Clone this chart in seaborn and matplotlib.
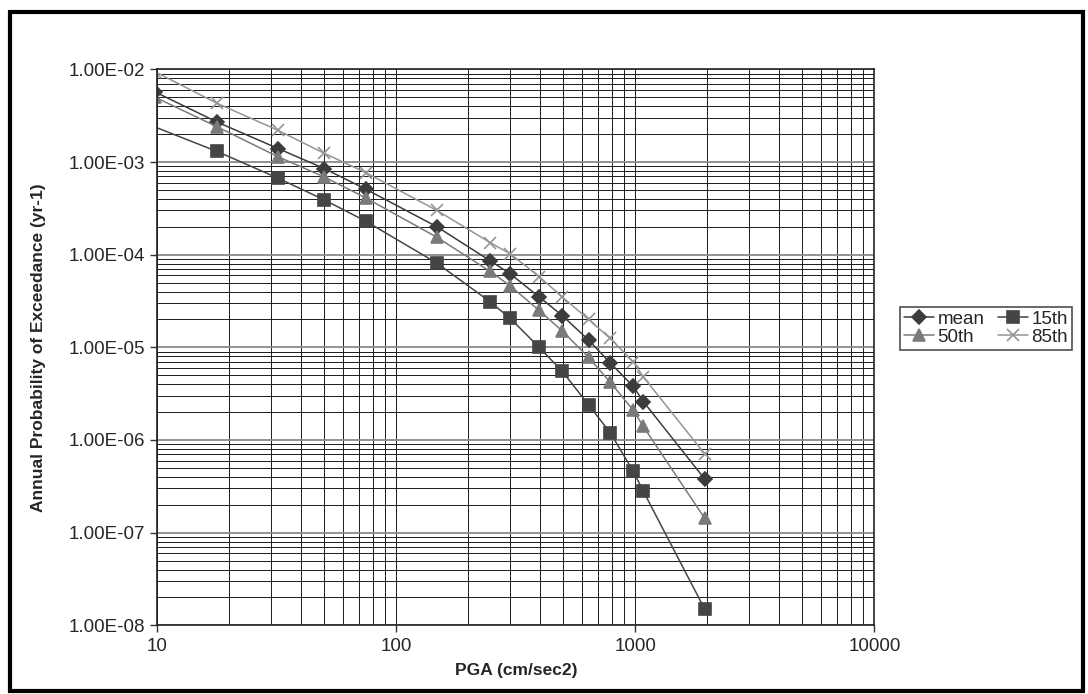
import seaborn as sns
import pandas as pd
import matplotlib.pyplot as plt
from matplotlib.ticker import LogLocator, FuncFormatter, NullFormatter
from matplotlib.patches import Rectangle

# datos
pga = [9.8, 17.8, 32, 50, 74.5, 148, 247, 300, 396, 495, 637, 785, 980, 1080, 1950]
pga_15th = [9.35, 17.8, 32, 50, 74.5, 148, 247, 300, 396, 495, 637, 785, 980, 1080, 1950]

mean = [5.7e-3, 2.7e-3, 1.4e-3, 8.5e-4, 5.1e-4, 2.0e-4, 8.6e-5, 6.2e-5, 3.5e-5,
        2.2e-5, 1.2e-5, 6.8e-6, 3.8e-6, 2.6e-6, 3.8e-7]
p15 = [2.5e-3, 1.3e-3, 6.7e-4, 3.9e-4, 2.3e-4, 8.1e-5, 3.1e-5, 2.05e-5, 1.0e-5,
       5.5e-6, 2.4e-6, 1.2e-6, 4.6e-7, 2.8e-7, 1.5e-8]
p50 = [5.0e-3, 2.4e-3, 1.14e-3, 6.9e-4, 4.1e-4, 1.54e-4, 6.6e-5, 4.6e-5, 2.5e-5,
       1.5e-5, 7.8e-6, 4.2e-6, 2.1e-6, 1.4e-6, 1.43e-7]
p85 = [9.4e-3, 4.3e-3, 2.2e-3, 1.24e-3, 7.7e-4, 3.0e-4, 1.35e-4, 1.02e-4, 5.8e-5,
       3.5e-5, 2.0e-5, 1.25e-5, 7.0e-6, 4.8e-6, 7.1e-7]

series = ["mean", "15th", "50th", "85th"]
xs = {"mean": pga, "15th": pga_15th, "50th": pga, "85th": pga}
ys = {"mean": mean, "15th": p15, "50th": p50, "85th": p85}

rows = []
for s in series:
    for x, y in zip(xs[s], ys[s]):
        rows.append({"pga": x, "prob": y, "serie": s})
df = pd.DataFrame(rows)

sns.set_style("white")
plt.rcParams["font.family"] = ["Liberation Sans", "DejaVu Sans"]

fig = plt.figure(figsize=(10.88, 6.94), dpi=100)
ax = fig.add_axes([0.1446, 0.099, 0.659, 0.801])
ax.set_xscale("log")
ax.set_yscale("log")

colores = {"mean": "#3c3c3c", "15th": "#454545", "50th": "#7a7a7a", "85th": "#959595"}
marcadores = {"mean": "D", "15th": "s", "50th": "^", "85th": "x"}
tamanos = {"mean": 7, "15th": 8, "50th": 8, "85th": 8}

for s in series:
    sns.lineplot(data=df[df.serie == s], x="pga", y="prob", ax=ax,
                 color=colores[s], marker=marcadores[s], markersize=tamanos[s],
                 markeredgecolor=colores[s], markeredgewidth=1.2,
                 linewidth=1.1, estimator=None, sort=False, label=s)

ax.set_xlim(10, 10000)
ax.set_ylim(1e-8, 1e-2)

ax.xaxis.set_major_locator(LogLocator(base=10, numticks=10))
ax.xaxis.set_minor_locator(LogLocator(base=10, subs=range(2, 10), numticks=20))
ax.yaxis.set_major_locator(LogLocator(base=10, numticks=10))
ax.yaxis.set_minor_locator(LogLocator(base=10, subs=range(2, 10), numticks=20))
ax.xaxis.set_major_formatter(FuncFormatter(lambda v, p: f"{v:.0f}"))
ax.yaxis.set_major_formatter(FuncFormatter(lambda v, p: f"{v:.2E}"))
ax.xaxis.set_minor_formatter(NullFormatter())
ax.yaxis.set_minor_formatter(NullFormatter())

ax.grid(True, which="major", axis="y", color="#8a8a8a", linewidth=1.3)
ax.grid(True, which="minor", axis="y", color="#1a1a1a", linewidth=0.7)
ax.grid(True, which="both", axis="x", color="#1a1a1a", linewidth=0.7)
ax.set_axisbelow(True)

ax.tick_params(axis="both", which="major", direction="out", length=5, width=1,
               color="#333333", labelsize=13.5, pad=4, left=True, bottom=True)
ax.tick_params(axis="both", which="minor", length=0)
for sp in ax.spines.values():
    sp.set_color("#222222")
    sp.set_linewidth(1.2)

ax.set_xlabel("PGA (cm/sec2)", fontsize=12.5, fontweight="bold", labelpad=6)
ax.set_ylabel("Annual Probability of Exceedance (yr-1)", fontsize=12.5,
              fontweight="bold", labelpad=16)

# orden de la leyenda: fila 1 mean / 15th, fila 2 50th / 85th
handles, labels = ax.get_legend_handles_labels()
orden = [labels.index(n) for n in ["mean", "50th", "15th", "85th"]]
leg = ax.legend([handles[i] for i in orden], [labels[i] for i in orden],
                loc="center left", bbox_to_anchor=(1.036, 0.534), ncol=2,
                frameon=True, fancybox=False, fontsize=13.5, handlelength=1.6,
                columnspacing=0.7, handletextpad=0.2, borderpad=0.2,
                labelspacing=0.05, borderaxespad=0)
leg.get_frame().set_edgecolor("#222222")
leg.get_frame().set_linewidth(1.2)

# marco exterior
fig.patches.append(Rectangle((0.009, 0.004), 0.986, 0.978, transform=fig.transFigure,
                             fill=False, edgecolor="black", linewidth=3))

plt.savefig("out.png", dpi=100)
plt.close()
